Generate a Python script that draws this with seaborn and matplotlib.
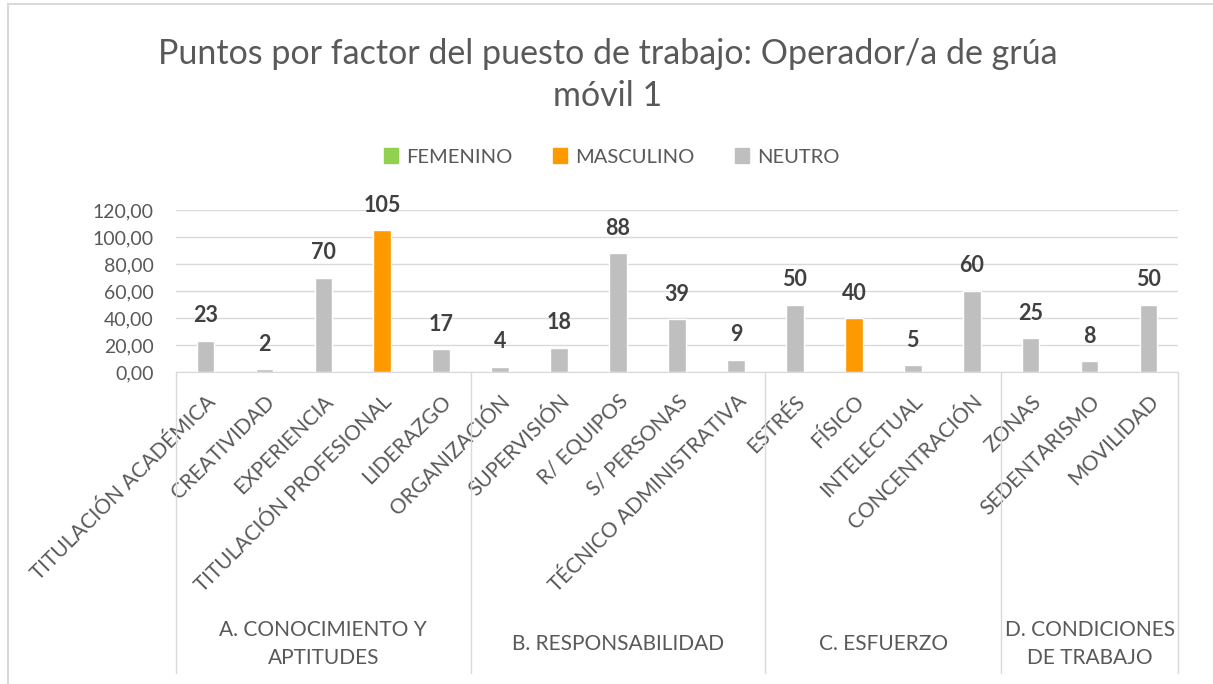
import numpy as np
import pandas as pd
import seaborn as sns
import matplotlib
import matplotlib.pyplot as plt
from matplotlib.patches import Patch
from matplotlib.transforms import blended_transform_factory
from matplotlib.ticker import FuncFormatter

matplotlib.use("Agg")

# ─── data ─────────────────────────────────────────────────────────
FACTORS = ["TITULACIÓN ACADÉMICA", "CREATIVIDAD", "EXPERIENCIA", "TITULACIÓN PROFESIONAL",
           "LIDERAZGO", "ORGANIZACIÓN", "SUPERVISIÓN", "R/ EQUIPOS", "S/ PERSONAS",
           "TÉCNICO ADMINISTRATIVA", "ESTRÉS", "FÍSICO", "INTELECTUAL", "CONCENTRACIÓN",
           "ZONAS", "SEDENTARISMO", "MOVILIDAD"]
POINTS = [23, 2, 70, 105, 17, 4, 18, 88, 39, 9, 50, 40, 5, 60, 25, 8, 50]
GENDER = ["NEUTRO", "NEUTRO", "NEUTRO", "MASCULINO", "NEUTRO",
          "NEUTRO", "NEUTRO", "NEUTRO", "NEUTRO", "NEUTRO",
          "NEUTRO", "MASCULINO", "NEUTRO", "NEUTRO",
          "NEUTRO", "NEUTRO", "NEUTRO"]
GROUPS = ["A. CONOCIMIENTO Y\nAPTITUDES", "B. RESPONSABILIDAD", "C. ESFUERZO",
          "D. CONDICIONES\nDE TRABAJO"]
GROUP_SIZES = [5, 5, 4, 3]

HUE_ORDER = ["FEMENINO", "MASCULINO", "NEUTRO"]
PALETTE = {"FEMENINO": "#92D050", "MASCULINO": "#FF9900", "NEUTRO": "#BFBFBF"}

TXT = "#595959"
GRID = "#D9D9D9"

df = pd.DataFrame({"factor": FACTORS, "puntos": POINTS, "genero": GENDER})

# ─── figure ───────────────────────────────────────────────────────
sns.set_style("white")
plt.rcParams["font.family"] = ["Lato", "DejaVu Sans"]

W, H = 1213, 684
fig = plt.figure(figsize=(W / 100, H / 100), dpi=100)
ax = fig.add_axes([176 / W, 1 - 372 / H, (1178 - 176) / W, (372 - 210) / H])

sns.barplot(data=df, x="factor", y="puntos", hue="genero", hue_order=HUE_ORDER,
            palette=PALETTE, dodge=False, width=0.3, legend=False, ax=ax,
            saturation=1)

ax.set_xlim(-0.5, len(FACTORS) - 0.5)
ax.set_ylim(0, 120)
ax.set_yticks(np.arange(0, 121, 20))
ax.yaxis.set_major_formatter(FuncFormatter(lambda v, _: f"{v:.2f}".replace(".", ",")))
ax.grid(axis="y", color=GRID, lw=1)
ax.set_axisbelow(True)
for s in ["left", "right", "top"]:
    ax.spines[s].set_visible(False)
ax.spines["bottom"].set_color(GRID)
ax.tick_params(axis="y", length=0, labelsize=14, colors=TXT, pad=16)
ax.tick_params(axis="x", length=0, labelsize=15, colors=TXT, pad=14)
ax.set_xlabel("")
ax.set_ylabel("")
plt.setp(ax.get_xticklabels(), rotation=45, ha="right", va="top", rotation_mode="anchor")

# value labels
for i, v in enumerate(POINTS):
    ax.annotate(f"{v}", (i, v), xytext=(0, 18), textcoords="offset points",
                ha="center", va="center", fontsize=15.5, fontweight="bold", color="#404040")

# group separators and labels
trans = blended_transform_factory(ax.transData, ax.transAxes)
bottom = (372 - 673) / (372 - 210)
edges = np.concatenate([[0], np.cumsum(GROUP_SIZES)]) - 0.5
for e in edges:
    ax.plot([e, e], [0, bottom], color=GRID, lw=1, transform=trans, clip_on=False)
for g, a, b in zip(GROUPS, edges[:-1], edges[1:]):
    ax.text((a + b) / 2, (372 - 644) / (372 - 210), g, transform=trans, ha="center",
            va="center", fontsize=15, color=TXT, linespacing=1.5)

# title
fig.text(608 / W, 1 - 75 / H, "Puntos por factor del puesto de trabajo: Operador/a de grúa\nmóvil 1",
         ha="center", va="center", fontsize=24.5, color=TXT, linespacing=1.35)

# legend
handles = [Patch(color=PALETTE[g]) for g in HUE_ORDER]
fig.legend(handles, HUE_ORDER, loc="center", bbox_to_anchor=(612 / W, 1 - 157 / H),
           ncol=3, frameon=False, fontsize=14.5, labelcolor=TXT, handlelength=0.7,
           handleheight=0.7, handletextpad=0.4, columnspacing=2.0)

# chart border (left and top only visible)
fig.patches.append(plt.Rectangle((8 / W, -0.1), 1.2, 1 - 4 / H + 0.1, transform=fig.transFigure,
                                 fill=False, edgecolor=GRID, lw=1.5))

fig.savefig("out.png", dpi=100)
